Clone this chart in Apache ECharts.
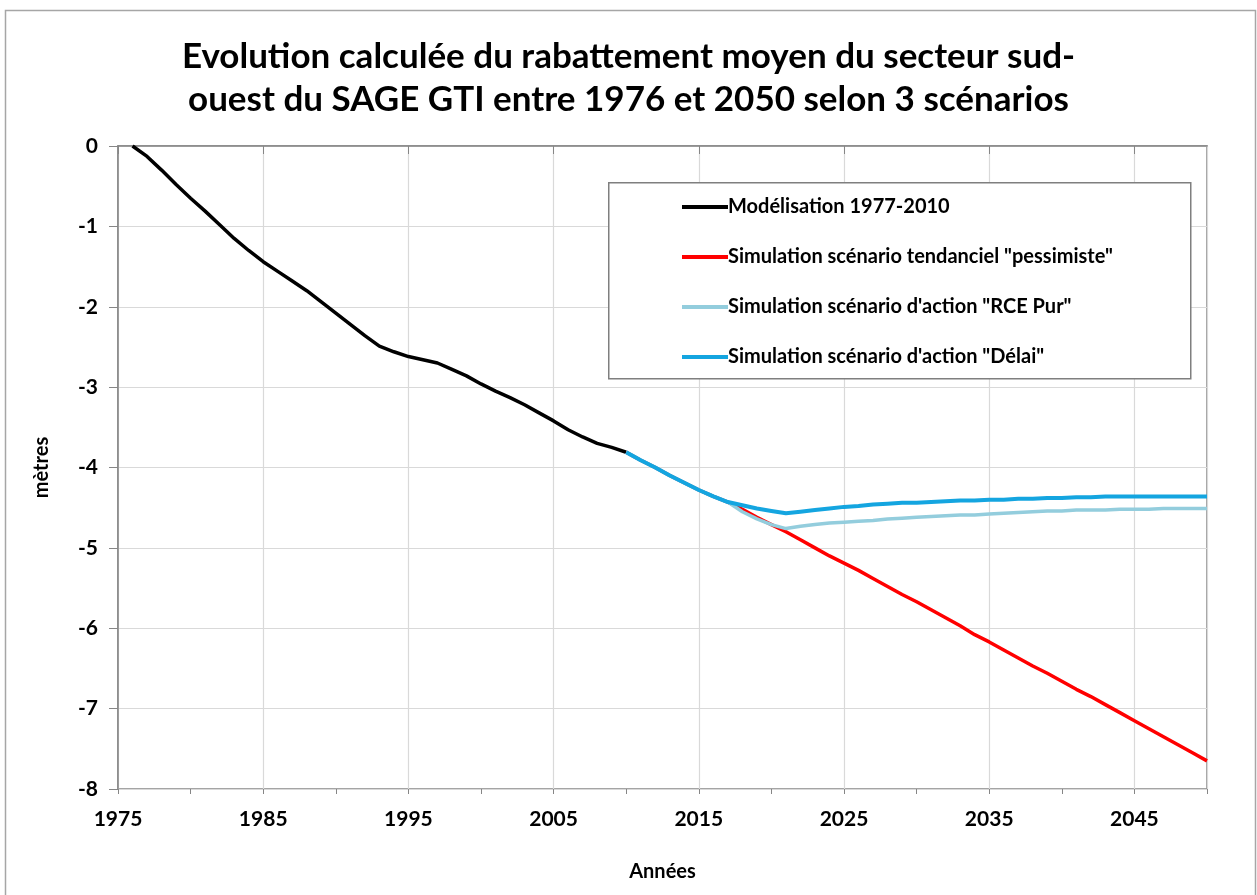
<!DOCTYPE html>
<html>
<head>
<meta charset="utf-8">
<script src="https://cdn.jsdelivr.net/npm/echarts@6/dist/echarts.min.js"></script>
<style>
  html, body { margin: 0; padding: 0; background: #fff; }
  #chart { width: 1257px; height: 895px; }
</style>
</head>
<body>
<div id="chart"></div>
<script>
// années modélisées (1976-2010)
var yearsModel = [1976, 1977, 1978, 1979, 1980, 1981, 1982, 1983, 1984, 1985,
  1986, 1987, 1988, 1989, 1990, 1991, 1992, 1993, 1994, 1995,
  1996, 1997, 1998, 1999, 2000, 2001, 2002, 2003, 2004, 2005,
  2006, 2007, 2008, 2009, 2010];
var modelisation = [0, -0.13, -0.30, -0.48, -0.65, -0.81, -0.98, -1.15, -1.30, -1.44,
  -1.56, -1.68, -1.80, -1.94, -2.08, -2.22, -2.36, -2.49, -2.56, -2.62,
  -2.66, -2.70, -2.78, -2.86, -2.96, -3.05, -3.13, -3.22, -3.32, -3.42,
  -3.53, -3.62, -3.70, -3.75, -3.81];

// années simulées (2010-2050)
var yearsSim = [2010, 2011, 2012, 2013, 2014, 2015, 2016, 2017, 2018, 2019,
  2020, 2021, 2022, 2023, 2024, 2025, 2026, 2027, 2028, 2029,
  2030, 2031, 2032, 2033, 2034, 2035, 2036, 2037, 2038, 2039,
  2040, 2041, 2042, 2043, 2044, 2045, 2046, 2047, 2048, 2049, 2050];
var pessimiste = [-3.81, -3.91, -4.00, -4.10, -4.19, -4.28, -4.36, -4.43, -4.52, -4.62,
  -4.71, -4.80, -4.90, -5.00, -5.10, -5.19, -5.28, -5.38, -5.48, -5.58,
  -5.67, -5.77, -5.87, -5.97, -6.08, -6.17, -6.27, -6.37, -6.47, -6.56,
  -6.66, -6.76, -6.85, -6.95, -7.05, -7.15, -7.25, -7.35, -7.45, -7.55, -7.65];
var rcePur = [-3.81, -3.91, -4.00, -4.10, -4.19, -4.28, -4.36, -4.43, -4.55, -4.64,
  -4.71, -4.76, -4.73, -4.71, -4.69, -4.68, -4.67, -4.66, -4.64, -4.63,
  -4.62, -4.61, -4.60, -4.59, -4.59, -4.58, -4.57, -4.56, -4.55, -4.54,
  -4.54, -4.53, -4.53, -4.53, -4.52, -4.52, -4.52, -4.51, -4.51, -4.51, -4.51];
var delai = [-3.81, -3.91, -4.00, -4.10, -4.19, -4.28, -4.36, -4.43, -4.47, -4.51,
  -4.54, -4.57, -4.55, -4.53, -4.51, -4.49, -4.48, -4.46, -4.45, -4.44,
  -4.44, -4.43, -4.42, -4.41, -4.41, -4.40, -4.40, -4.39, -4.39, -4.38,
  -4.38, -4.37, -4.37, -4.36, -4.36, -4.36, -4.36, -4.36, -4.36, -4.36, -4.36];

var seriesNames = [
  'Modélisation 1977-2010',
  'Simulation scénario tendanciel "pessimiste"',
  'Simulation scénario d\'action "RCE Pur"',
  'Simulation scénario d\'action "Délai"'
];

function pairs(xs, ys) {
  return xs.map(function (x, i) { return [x, ys[i]]; });
}

var font = 'Lato, "Open Sans", sans-serif';
var chart = echarts.init(document.getElementById('chart'));

var option = {
  animation: false,
  backgroundColor: '#fff',
  title: {
    text: 'Evolution calculée du rabattement moyen du secteur sud-\nouest du SAGE GTI entre 1976 et 2050 selon 3 scénarios',
    left: 'center',
    top: 30,
    textStyle: { fontFamily: font, fontSize: 35, fontWeight: 'bold', color: '#000', lineHeight: 43 }
  },
  graphic: [
    { type: 'rect', left: 3, top: 8, shape: { width: 1250, height: 900 },
      style: { fill: 'none', stroke: '#a6a6a6', lineWidth: 1.5 }, z: -1 },
    { type: 'rect', left: 608, top: 182, shape: { width: 582, height: 196 },
      style: { fill: '#fff', stroke: '#7f7f7f', lineWidth: 1.5 }, z: 10 }
  ],
  legend: {
    orient: 'vertical',
    left: 677,
    top: 192,
    itemGap: 30,
    itemWidth: 46,
    itemHeight: 4,
    icon: 'rect',
    z: 20,
    data: seriesNames,
    textStyle: { fontFamily: font, fontSize: 20, fontWeight: 'bold', color: '#000', padding: [0, 0, 0, -5], lineHeight: 20 }
  },
  grid: {
    left: 118, right: 50, top: 146, bottom: 106,
    show: true, borderColor: '#868686', borderWidth: 1.5
  },
  xAxis: [{
    type: 'value',
    min: 1975, max: 2050, interval: 10,
    name: 'Années',
    nameLocation: 'middle',
    nameGap: 73,
    nameTextStyle: { fontFamily: font, fontSize: 20, fontWeight: 'bold', color: '#000' },
    axisLine: { lineStyle: { color: '#868686', width: 1.5 } },
    axisTick: { show: true, length: 8, lineStyle: { color: '#868686' } },
    axisLabel: {
      margin: 20, showMaxLabel: false, fontFamily: font, fontSize: 21, fontWeight: 'bold', color: '#000',
      formatter: function (v) { return String(v); }
    },
    splitLine: { show: true, lineStyle: { color: '#d9d9d9', width: 1.2 } }
  }, {
    type: 'value',
    position: 'bottom',
    min: 1975, max: 2050, interval: 5,
    axisLine: { show: false },
    axisTick: { show: true, length: 5, lineStyle: { color: '#868686' } },
    axisLabel: { show: false },
    splitLine: { show: false }
  }],
  yAxis: {
    type: 'value',
    min: -8, max: 0, interval: 1,
    name: 'mètres',
    nameLocation: 'middle',
    nameGap: 66,
    nameTextStyle: { fontFamily: font, fontSize: 20, fontWeight: 'bold', color: '#000' },
    axisLine: { show: true, lineStyle: { color: '#868686', width: 1.5 } },
    axisTick: { show: true, length: 9, lineStyle: { color: '#868686' } },
    axisLabel: { margin: 20, fontFamily: font, fontSize: 21, fontWeight: 'bold', color: '#000' },
    splitLine: { show: true, lineStyle: { color: '#d9d9d9', width: 1.2 } }
  },
  series: [
    { name: seriesNames[0], type: 'line', data: pairs(yearsModel, modelisation),
      showSymbol: false, color: '#000000', lineStyle: { width: 3.5 } },
    { name: seriesNames[1], type: 'line', data: pairs(yearsSim, pessimiste),
      showSymbol: false, color: '#ff0000', lineStyle: { width: 3.5 } },
    { name: seriesNames[2], type: 'line', data: pairs(yearsSim, rcePur),
      showSymbol: false, color: '#93cddd', lineStyle: { width: 3.5 } },
    { name: seriesNames[3], type: 'line', data: pairs(yearsSim, delai),
      showSymbol: false, color: '#14a5e0', lineStyle: { width: 4 } }
  ]
};
chart.setOption(option);
</script>
</body>
</html>
